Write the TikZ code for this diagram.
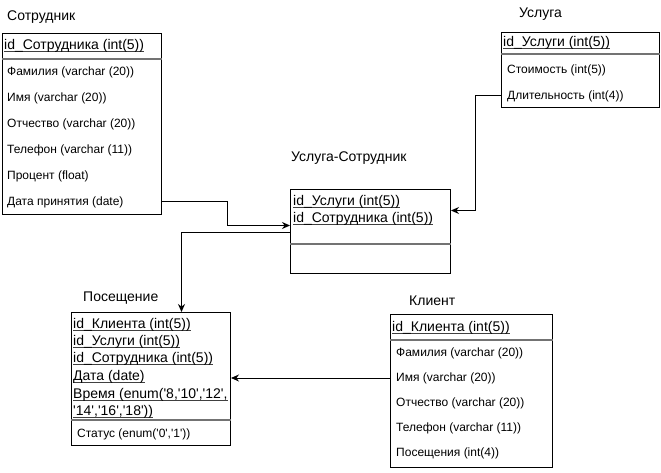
\documentclass[tikz,border=0pt]{standalone}
\usepackage{fontspec}
\setmainfont{Liberation Sans}
\usetikzlibrary{arrows.meta}
\newcommand\sq{\textquotesingle}
\newcommand\ul[1]{\setbox0\hbox{#1}\rlap{\color{black!75}\rule[-1.7pt]{\wd0}{0.8pt}}\box0}

\tikzset{
  tbl/.style={draw, line width=1pt, anchor=north west, inner sep=0pt},
  sep/.style={draw=black!55, line width=1.5pt},
  ttl/.style={anchor=west, inner sep=0pt, font=\fontsize{14}{16}\selectfont},
  key/.style={anchor=west, inner sep=0pt, font=\fontsize{14}{16}\selectfont},
  fld/.style={anchor=west, inner sep=0pt, font=\fontsize{12}{14}\selectfont},
  link/.style={line width=1pt, -{Stealth[length=8pt,width=7pt]}},
}

\begin{document}
\begin{tikzpicture}[x=1pt,y=-1pt]
\useasboundingbox (0,0) rectangle (661,473);
% Сотрудник
\node[ttl] (tsotr) at (7,17) {Сотрудник};
\node[tbl, minimum width=159pt, minimum height=181pt] (sotr) at (2,33) {};
\draw[sep] ([yshift=-26pt]sotr.north west) -- ([yshift=-26pt]sotr.north east);
\node[key] (s0) at (4,46) {\ul{id\_Сотрудника (int(5))}};
\foreach \t [count=\i] in {Фамилия (varchar (20)), Имя (varchar (20)),
    Отчество (varchar (20)), Телефон (varchar (11)), Процент (float),
    Дата принятия (date)}
  \node[fld] (s\i) at (7,46+26*\i) {\t};
% Услуга
\node[ttl] (tusl) at (519,14) {Услуга};
\node[tbl, minimum width=158pt, minimum height=75pt] (usl) at (501,32) {};
\draw[sep] ([yshift=-22pt]usl.north west) -- ([yshift=-22pt]usl.north east);
\node[key] (u0) at (503,43) {\ul{id\_Услуги (int(5))}};
\node[fld] (u1) at (507,70) {Стоимость (int(5))};
\node[fld] (u2) at (507,96) {Длительность (int(4))};
% Услуга-Сотрудник
\node[ttl] (tus) at (291,158) {Услуга-Сотрудник};
\node[tbl, minimum width=160pt, minimum height=84pt] (us) at (290,189) {};
\draw[sep] ([yshift=-55pt]us.north west) -- ([yshift=-55pt]us.north east);
\node[key] (us1) at (293,202) {\ul{id\_Услуги (int(5))}};
\node[key] (us2) at (293,219) {\ul{id\_Сотрудника (int(5))}};
% Посещение
\node[ttl] (tpos) at (83,298) {Посещение};
\node[tbl, minimum width=159pt, minimum height=133pt] (pos) at (71,312) {};
\draw[sep] ([yshift=-108pt]pos.north west) -- ([yshift=-108pt]pos.north east);
\node[key] (p1) at (73,325) {\ul{id\_Клиента (int(5))}};
\node[key] (p2) at (73,342) {\ul{id\_Услуги (int(5))}};
\node[key] (p3) at (73,359) {\ul{id\_Сотрудника (int(5))}};
\node[key] (p4) at (73,377) {\ul{Дата (date)}};
\node[key] (p5) at (73,395) {\ul{Время (enum(\sq8,\sq10\sq,\sq12\sq,}};
\node[key] (p6) at (73,412) {\ul{\sq14\sq,\sq16\sq,\sq18\sq))}};
\node[fld] (p7) at (77,434) {Статус (enum(\sq0\sq,\sq1\sq))};
% Клиент
\node[ttl] (tkl) at (409,301) {Клиент};
\node[tbl, minimum width=162pt, minimum height=153pt] (kl) at (390,314) {};
\draw[sep] ([yshift=-26pt]kl.north west) -- ([yshift=-26pt]kl.north east);
\node[key] (k0) at (392,328) {\ul{id\_Клиента (int(5))}};
\foreach \t [count=\i] in {Фамилия (varchar (20)), Имя (varchar (20)),
    Отчество (varchar (20)), Телефон (varchar (11)), Посещения (int(4))}
  \node[fld] (k\i) at (396,328+25*\i) {\t};
% связи
\draw[link] (s6 -| sotr.east) -- ++(65,0) |- ([yshift=6pt]us.west);
\draw[link] ([yshift=-1pt]us.west) -| ([xshift=30.5pt]pos.north);
\draw[link] (u2 -| usl.west) -- ++(-26,0) |- ([yshift=21pt]us.east);
\draw[link] (k2 -| kl.west) -- (k2 -| pos.east);
\end{tikzpicture}
\end{document}
